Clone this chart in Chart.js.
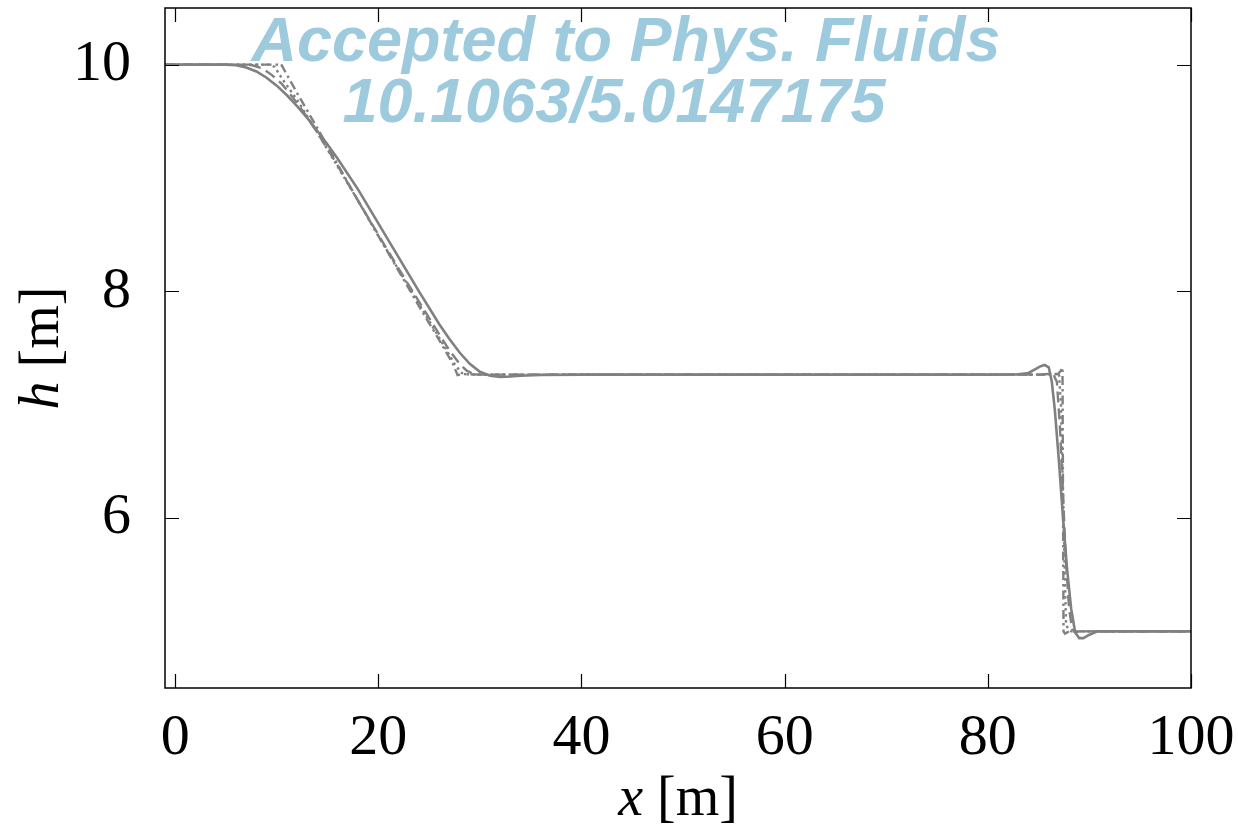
<!DOCTYPE html>
<html>
<head>
<meta charset="utf-8">
<script src="https://cdn.jsdelivr.net/npm/chart.js@4.4.0/dist/chart.umd.min.js"></script>
<style>
  html, body { margin: 0; padding: 0; background: #ffffff; }
  #wrap { width: 1238px; height: 839px; position: relative; }
</style>
</head>
<body>
<div id="wrap"><canvas id="c" width="1238" height="839"></canvas></div>
<script>
// ---------- data ----------
const xTickValues = [0, 20, 40, 60, 80, 100];
const yTickValues = [6, 8, 10];

// solid line (most diffused numerical solution)
const solidX = [-1, 5, 6, 7, 8, 9, 10, 11, 12, 13, 14, 15, 16, 18, 20, 22, 24, 26, 27, 28, 29, 30, 31, 32, 33, 34, 36, 40, 60, 80, 83, 84, 84.6, 85.2, 85.6, 86, 86.3, 86.6, 87, 87.4, 87.8, 88.2, 88.6, 89, 89.4, 90, 90.8, 92, 100];
const solidH = [10, 10, 9.995, 9.975, 9.94, 9.885, 9.815, 9.73, 9.635, 9.53, 9.415, 9.295, 9.17, 8.9, 8.6, 8.3, 8.0, 7.71, 7.58, 7.46, 7.36, 7.29, 7.255, 7.245, 7.248, 7.255, 7.262, 7.265, 7.265, 7.265, 7.268, 7.28, 7.31, 7.34, 7.35, 7.33, 7.2, 6.95, 6.5, 6.0, 5.55, 5.2, 4.99, 4.94, 4.94, 4.97, 5.0, 5.0, 5.0];

// dashed line (medium resolution)
const dashedX = [-1, 7, 7.6, 8.5, 9.5, 10.5, 11.5, 12.5, 14, 16, 18, 20, 22, 24, 26, 27, 28, 28.7, 29.3, 30, 32, 40, 60, 80, 85, 86, 86.4, 86.8, 87.1, 87.4, 87.7, 88, 88.3, 88.6, 89, 100];
const dashedH = [10, 10, 9.995, 9.97, 9.91, 9.83, 9.72, 9.6, 9.4, 9.11, 8.8, 8.5, 8.2, 7.91, 7.62, 7.48, 7.36, 7.3, 7.275, 7.265, 7.265, 7.265, 7.265, 7.265, 7.265, 7.27, 7.28, 7.2, 6.8, 6.2, 5.6, 5.2, 5.02, 4.99, 5.0, 5.0];

// dash-dot line (sharp solution)
const dashDotX = [-1, 10.2, 10.4, 10.7, 12, 14, 16, 18, 20, 22, 24, 26, 27.4, 27.8, 28.3, 30, 40, 60, 80, 86, 86.9, 87.2, 87.35, 87.4, 87.45, 87.6, 88, 100];
const dashDotH = [10, 10, 10.01, 9.96, 9.75, 9.44, 9.12, 8.8, 8.49, 8.18, 7.87, 7.57, 7.35, 7.26, 7.27, 7.265, 7.265, 7.265, 7.265, 7.265, 7.27, 7.3, 7.33, 6.2, 5.0, 4.98, 5.0, 5.0];

// dotted line
const dottedX = [-1, 9.3, 9.8, 10.5, 12, 14, 16, 18, 20, 22, 24, 26, 27.5, 28.2, 29, 40, 60, 80, 86.5, 87, 87.2, 87.5, 87.7, 88.2, 100];
const dottedH = [10, 10, 9.98, 9.88, 9.69, 9.4, 9.1, 8.8, 8.49, 8.19, 7.89, 7.59, 7.36, 7.28, 7.265, 7.265, 7.265, 7.265, 7.265, 7.28, 7.0, 5.8, 5.05, 5.0, 5.0];

// ---------- chart ----------
const toPts = (xs, ys) => xs.map((x, i) => ({ x: x, y: ys[i] }));
const lineGrey = 'rgb(128,128,128)';
const serif = "'Liberation Serif', 'DejaVu Serif', serif";

function mkSet(label, xs, ys, dash, w) {
  return {
    label: label,
    data: toPts(xs, ys),
    borderColor: lineGrey,
    backgroundColor: lineGrey,
    borderWidth: w,
    borderDash: dash,
    pointRadius: 0,
    tension: 0,
    fill: false
  };
}

const framePlugin = {
  id: 'frame',
  afterDraw(chart) {
    const ctx = chart.ctx;
    const a = chart.chartArea;
    const xs = chart.scales.x, ys = chart.scales.y;
    ctx.save();
    ctx.strokeStyle = '#000';
    ctx.lineWidth = 1.5;
    ctx.strokeRect(a.left, a.top, a.right - a.left, a.bottom - a.top);
    const tl = 14;
    ctx.lineWidth = 1.2;
    ctx.beginPath();
    xTickValues.forEach(v => {
      const p = Math.round(xs.getPixelForValue(v)) + 0.5;
      ctx.moveTo(p, a.bottom); ctx.lineTo(p, a.bottom - tl);
      ctx.moveTo(p, a.top); ctx.lineTo(p, a.top + tl);
    });
    yTickValues.forEach(v => {
      const p = Math.round(ys.getPixelForValue(v)) + 0.5;
      ctx.moveTo(a.left, p); ctx.lineTo(a.left + tl, p);
      ctx.moveTo(a.right, p); ctx.lineTo(a.right - tl, p);
    });
    ctx.stroke();

    // axis titles (italic symbol + upright unit)
    ctx.fillStyle = '#000';
    ctx.textBaseline = 'alphabetic';
    const fs = 56;
    const itF = 'italic ' + fs + 'px ' + serif;
    const upF = fs + 'px ' + serif;
    // x title
    ctx.font = itF; const wx = ctx.measureText('x').width;
    ctx.font = upF; const wu = ctx.measureText(' [m]').width;
    const cx = (a.left + a.right) / 2;
    let sx = cx - (wx + wu) / 2;
    ctx.font = itF; ctx.textAlign = 'left'; ctx.fillText('x', sx, 815);
    ctx.font = upF; ctx.fillText(' [m]', sx + wx, 815);
    // y title
    ctx.save();
    ctx.translate(58, (a.top + a.bottom) / 2);
    ctx.rotate(-Math.PI / 2);
    ctx.font = itF; const wh = ctx.measureText('h').width;
    ctx.font = upF; const wu2 = ctx.measureText(' [m]').width;
    let sy = -(wh + wu2) / 2;
    ctx.font = itF; ctx.fillText('h', sy, 0);
    ctx.font = upF; ctx.fillText(' [m]', sy + wh, 0);
    ctx.restore();

    // watermark
    ctx.fillStyle = 'rgb(158,202,222)';
    ctx.textAlign = 'center';
    ctx.font = "italic bold 63px 'Liberation Sans', Arimo, sans-serif";
    ctx.fillText('Accepted to Phys. Fluids', 626, 61);
    ctx.fillText('10.1063/5.0147175', 614, 122);
    ctx.restore();
  }
};

new Chart(document.getElementById('c'), {
  type: 'line',
  data: {
    datasets: [
      mkSet('solid', solidX, solidH, [], 2.6),
      mkSet('dashed', dashedX, dashedH, [11, 6], 2.4),
      mkSet('dash-dot', dashDotX, dashDotH, [9, 4, 2.5, 4], 2.4),
      mkSet('dotted', dottedX, dottedH, [2.5, 3.5], 2.4)
    ]
  },
  options: {
    responsive: false,
    animation: false,
    devicePixelRatio: 1,
    layout: { padding: { top: 8, right: 47, left: 0, bottom: 0 } },
    plugins: { legend: { display: false }, tooltip: { enabled: false }, title: { display: false } },
    scales: {
      x: {
        type: 'linear',
        min: -1,
        max: 100,
        grid: { display: false, drawTicks: false },
        border: { display: false },
        ticks: { color: '#000', font: { family: serif, size: 58 }, padding: 16, maxRotation: 0 },
        afterBuildTicks: s => { s.ticks = xTickValues.map(v => ({ value: v })); },
        afterFit: s => { s.height = 151; s.paddingLeft = 0; s.paddingRight = 0; }
      },
      y: {
        type: 'linear',
        min: 4.5,
        max: 10.5,
        grid: { display: false, drawTicks: false },
        border: { display: false },
        ticks: { color: '#000', font: { family: serif, size: 58 }, padding: 34 },
        afterBuildTicks: s => { s.ticks = yTickValues.map(v => ({ value: v })); },
        afterFit: s => { s.width = 165; s.paddingTop = 0; s.paddingBottom = 0; }
      }
    }
  },
  plugins: [framePlugin]
});
</script>
</body>
</html>
